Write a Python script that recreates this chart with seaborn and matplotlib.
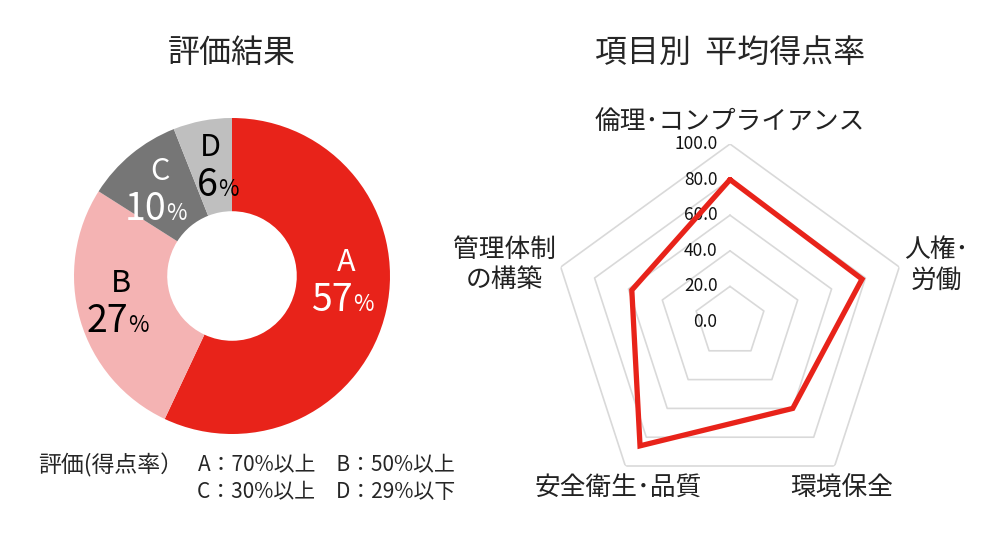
import numpy as np
import matplotlib
matplotlib.use("Agg")
import matplotlib.pyplot as plt
import seaborn as sns

# 評価結果（ドーナツ）
grades = ["A", "B", "C", "D"]
grade_pct = [57, 27, 10, 6]
grade_colors = ["#E8231A", "#F4B3B3", "#767676", "#BFBFBF"]
label_colors = ["white", "black", "white", "black"]

# 項目別 平均得点率（レーダー）
items = ["倫理･コンプライアンス", "人権･\n労働", "環境保全", "安全衛生･品質", "管理体制\nの構築"]
item_scores = [80.0, 78.0, 60.0, 86.0, 58.0]
r_ticks = [0, 20, 40, 60, 80, 100]

legend_title = "評価(得点率）"
legend_line1 = "A：70%以上　B：50%以上"
legend_line2 = "C：30%以上　D：29%以下"

sns.set_theme(style="white")
plt.rcParams["font.family"] = ["Noto Sans CJK JP", "DejaVu Sans"]

W, H = 1000, 548
fig = plt.figure(figsize=(W / 100, H / 100), dpi=100)


def px_axes(cx, cy, r, **kw):
    # 画像のピクセル座標で正方形の軸を作る
    return fig.add_axes([(cx - r) / W, (H - cy - r) / H, 2 * r / W, 2 * r / H], **kw)


# ---- ドーナツ ----
ax1 = px_axes(232, 276, 158)
wedges, _ = ax1.pie(grade_pct, colors=grade_colors, startangle=90, counterclock=False,
                    radius=1.0, wedgeprops=dict(width=0.59, edgecolor="none"))
ax1.set_xlim(-1, 1)
ax1.set_ylim(-1, 1)
# ラベルの角度の微調整（度）
label_shift = [11, -4, 0, 0]
for w, g, p, c, s in zip(wedges, grades, grade_pct, label_colors, label_shift):
    ang = np.deg2rad((w.theta1 + w.theta2) / 2 + s)
    x, y = 0.72 * np.cos(ang), 0.72 * np.sin(ang)
    ax1.annotate(g, (x, y), xytext=(0, 6), textcoords="offset points",
                 ha="center", va="baseline", fontsize=22, color=c)
    ax1.annotate(str(p), (x, y), xytext=(5, -23), textcoords="offset points",
                 ha="right", va="baseline", fontsize=27, color=c)
    ax1.annotate("%", (x, y), xytext=(5, -23), textcoords="offset points",
                 ha="left", va="baseline", fontsize=16, color=c)

fig.text(232 / W, 1 - 53 / H, "評価結果", ha="center", va="center", fontsize=23)
fig.text(183 / W, 1 - 465 / H, legend_title, ha="right", va="center", fontsize=16.5)
fig.text(455 / W, 1 - 465 / H, legend_line1, ha="right", va="center", fontsize=15)
fig.text(455 / W, 1 - 492 / H, legend_line2, ha="right", va="center", fontsize=15)

# ---- レーダー ----
ax2 = px_axes(730, 322, 178, projection="polar")
theta = np.linspace(0, 2 * np.pi, len(items), endpoint=False)
closed = np.append(theta, theta[0])
ax2.set_theta_zero_location("N")
ax2.set_theta_direction(-1)
ax2.set_ylim(0, 100)
ax2.grid(False)
ax2.set_xticks([])
ax2.set_yticks([])
ax2.spines["polar"].set_visible(False)
ax2.set_facecolor("none")

for t in r_ticks[1:]:
    ax2.plot(closed, [t] * len(closed), color="#D9D9D9", lw=1.2, zorder=1)

ax2.plot(closed, np.append(item_scores, item_scores[0]), color="#E8231A", lw=3.8,
         solid_joinstyle="miter", zorder=3)

for t in r_ticks:
    ax2.annotate(f"{t:.1f}", (0, t), xytext=(-9, 0), textcoords="offset points",
                 ha="right", va="center", fontsize=12.5, color="#111111", zorder=2)

label_pos = [
    (105, "center", "bottom"),
    (103, "left", "center"),
    (107, "center", "top"),
    (107, "center", "top"),
    (103, "right", "center"),
]
for th, name, (r, ha, va) in zip(theta, items, label_pos):
    ax2.text(th, r, name, ha=ha, va=va, fontsize=18.5, multialignment="center",
             linespacing=1.2, color="#222222")

fig.text(730 / W, 1 - 53 / H, "項目別  平均得点率", ha="center", va="center", fontsize=23)

fig.savefig("out.png", dpi=100, facecolor="white")
